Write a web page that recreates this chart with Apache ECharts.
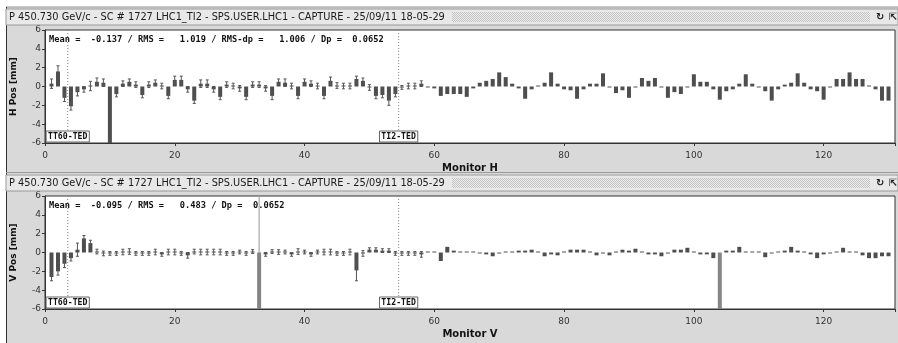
<!DOCTYPE html>
<html>
<head>
<meta charset="utf-8">
<script src="https://cdn.jsdelivr.net/npm/echarts@6/dist/echarts.min.js"></script>
<style>
  html, body { margin: 0; padding: 0; background: #ffffff; }
  #chart { width: 898px; height: 343px; }
</style>
</head>
<body>
<div id="chart"></div>
<script>
// Orbit readings per monitor (mm); monitor number = index + 1
const hPos = [
  0.3, 1.6, -1.2, -2.1, -0.6, -0.3, 0.05, 0.5, 0.4, -6,
  -0.8, 0.3, 0.5, 0.2, -0.9, 0.2, 0.4, 0.05, -1.0, 0.7,
  0.7, -0.3, -1.5, 0.3, 0.3, -0.3, -1.1, 0.2, 0.05, -0.2,
  -1.1, 0.2, 0.2, -0.2, -1.0, 0.5, 0.4, 0.05, -1.0, 0.5,
  0.3, 0.05, -1.0, 0.6, 0.1, 0.05, 0.05, 0.8, 0.6, -0.1,
  -1.0, -0.9, -1.5, -0.8, -0.1, 0.05, 0.05, 0.3, -0.1, -0.2,
  -1.0, -0.8, -0.8, -0.8, -1.1, -0.2, 0.4, 0.6, 0.8, 1.5,
  1.0, 0.3, -0.2, -1.3, -0.3, 0.1, 0.4, 1.5, 0.3, -0.3,
  -0.4, -1.3, -0.3, 0.3, 0.3, 1.4, -0.1, -0.7, -0.4, -1.2,
  -0.1, 0.9, 0.6, 0.9, -0.1, -1.2, -0.6, -0.8, -0.1, 1.3,
  0.5, 0.5, -0.3, -1.4, -0.5, -0.3, 0.3, 1.3, 0.3, -0.1,
  -0.5, -1.5, -0.3, 0.2, 0.4, 1.4, 0.4, -0.3, -0.5, -1.4,
  -0.1, 0.8, 0.8, 1.5, 0.8, 0.8, 0.1, -0.3, -1.5, -1.5
];
const hErr = [
  0.5, 0.6, 0.4, 0.4, 0.4, 0.3, 0.5, 0.4, 0.4, 0,
  0.3, 0.3, 0.3, 0.3, 0.3, 0.3, 0.3, 0.3, 0.3, 0.4,
  0.4, 0.3, 0.3, 0.4, 0.4, 0.3, 0.3, 0.3, 0.3, 0.3,
  0.3, 0.3, 0.3, 0.3, 0.4, 0.3, 0.4, 0.3, 0.3, 0.3,
  0.3, 0.3, 0.3, 0.4, 0.3, 0.3, 0.3, 0.3, 0.3, 0.3,
  0.3, 0.3, 0.5, 0.3, 0.2, 0.3, 0.3, 0.3
];
const vPos = [
  -2.6, -2.0, -1.2, -0.6, 0.3, 1.5, 1.0, 0.1, -0.1, -0.1,
  -0.1, 0.05, 0.1, -0.1, -0.1, -0.1, 0.05, -0.2, 0.05, 0.05,
  -0.1, -0.3, 0.1, 0.05, 0.05, 0.05, 0.05, -0.1, -0.1, 0.05,
  -0.1, 0.1, -6, -0.2, 0.1, 0.05, 0.05, -0.2, 0.1, 0.05,
  -0.2, 0.05, 0.05, 0.05, -0.1, -0.1, 0.05, -1.9, -0.1, 0.3,
  0.3, 0.2, 0.2, -0.1, -0.1, -0.1, -0.1, -0.2, 0.05, 0.1,
  -0.9, 0.6, 0.2, 0.1, 0.1, 0.05, -0.1, -0.2, -0.4, -0.1,
  0.05, 0.05, 0.2, 0.2, 0.3, 0.05, -0.4, -0.2, -0.3, 0.05,
  0.3, 0.3, 0.3, 0.05, -0.3, -0.1, -0.3, 0.05, 0.3, 0.2,
  0.4, 0.05, -0.2, -0.2, -0.4, -0.1, 0.3, 0.3, 0.5, 0.05,
  -0.2, -0.2, -0.6, -6, 0.2, 0.2, 0.6, 0.1, 0.05, 0.05,
  -0.5, -0.1, 0.05, 0.2, 0.6, 0.2, 0.05, -0.2, -0.6, -0.2,
  -0.1, 0.05, 0.5, 0.1, 0.05, -0.3, -0.6, -0.6, -0.4, -0.4
];
const vErr = [
  0.4, 0.4, 0.4, 0.3, 0.7, 0.3, 0.3, 0.25, 0.25, 0.2,
  0.2, 0.3, 0.3, 0.2, 0.2, 0.2, 0.3, 0.2, 0.3, 0.3,
  0.2, 0.3, 0.25, 0.3, 0.3, 0.3, 0.3, 0.2, 0.2, 0.2,
  0.2, 0.2, 0, 0.2, 0.2, 0.25, 0.2, 0.2, 0.3, 0.2,
  0.2, 0.2, 0.3, 0.3, 0.2, 0.2, 0.3, 1.1, 0.3, 0.2,
  0.2, 0.2, 0.2, 0.2, 0.2, 0.2, 0.2, 0.3
];
// Monitors read as saturated / faulty in each plane
const hBadMonitors = [10];
const vBadMonitors = [33, 104];
// Selected monitor in the vertical view
const vSelected = [33];

// Element markers along the line
const markerNames = ['TT60-TED', 'TI2-TED'];
const markerPos = [3.5, 54.5];

const yTicks = { min: -6, max: 6, interval: 2 };
const xTicks = { min: 0, max: 131, interval: 20 };

const titleText = 'P 450.730 GeV/c - SC # 1727 LHC1_TI2 - SPS.USER.LHC1 - CAPTURE - 25/09/11 18-05-29';
const hStats = 'Mean =  -0.137 / RMS =   1.019 / RMS-dp =   1.006 / Dp =  0.0652';
const vStats = 'Mean =  -0.095 / RMS =   0.483 / Dp =  0.0652';

const BAR = '#4e4e4e';
const BAD_V = '#858585';
const SANS = '"DejaVu Sans", Verdana, sans-serif';
const MONO = '"DejaVu Sans Mono", monospace';

const chart = echarts.init(document.getElementById('chart'), null, { renderer: 'canvas' });

function barData(values, bad, badColor) {
  return values.map((v, i) => {
    const m = i + 1;
    if (bad.indexOf(m) >= 0) {
      return { value: [m, v], itemStyle: { color: badColor } };
    }
    return { value: [m, v] };
  });
}
function errData(values, errs) {
  const out = [];
  errs.forEach((e, i) => {
    if (e > 0) out.push([i + 1, values[i] - e, values[i] + e]);
  });
  return out;
}

function renderErr(params, api) {
  const x = api.value(0);
  const pTop = api.coord([x, api.value(2)]);
  const pBot = api.coord([x, api.value(1)]);
  const st = { stroke: '#555', lineWidth: 1 };
  return {
    type: 'group',
    children: [
      { type: 'line', shape: { x1: pTop[0], y1: pTop[1], x2: pBot[0], y2: pBot[1] }, style: st },
      { type: 'line', shape: { x1: pTop[0] - 1.5, y1: pTop[1], x2: pTop[0] + 1.5, y2: pTop[1] }, style: st },
      { type: 'line', shape: { x1: pBot[0] - 1.5, y1: pBot[1], x2: pBot[0] + 1.5, y2: pBot[1] }, style: st }
    ]
  };
}

function renderMarker(params, api) {
  const x = api.value(0);
  const pTop = api.coord([x, yTicks.max]);
  const pBot = api.coord([x, yTicks.min]);
  const name = markerNames[params.dataIndex];
  const w = name.length * 4.9 + 4;
  return {
    type: 'group',
    children: [
      { type: 'line', shape: { x1: pTop[0], y1: pTop[1], x2: pBot[0], y2: pBot[1] },
        style: { stroke: '#888', lineWidth: 1, lineDash: [1, 2] } },
      { type: 'rect', shape: { x: pBot[0] - w / 2, y: pBot[1] - 12, width: w, height: 11 },
        style: { fill: '#fff', stroke: '#666', lineWidth: 1 }, z2: 5 },
      { type: 'text', x: pBot[0], y: pBot[1] - 6.5, z2: 6,
        style: { text: name, fill: '#111', font: 'bold 8.2px ' + MONO, align: 'center', verticalAlign: 'middle' } }
    ]
  };
}

function renderSelected(params, api) {
  const x = api.value(0);
  const pTop = api.coord([x, yTicks.max]);
  const pBot = api.coord([x, yTicks.min]);
  return { type: 'line', shape: { x1: pTop[0], y1: pTop[1], x2: pBot[0], y2: pBot[1] },
           style: { stroke: '#a8a8a8', lineWidth: 1.2 } };
}

// stippled texture for the title bars
const stip = document.createElement('canvas');
stip.width = 2; stip.height = 2;
(function () {
  const c = stip.getContext('2d');
  c.fillStyle = '#ececec'; c.fillRect(0, 0, 2, 2);
  c.fillStyle = '#c4c4c4'; c.fillRect(0, 0, 1, 1); c.fillRect(1, 1, 1, 1);
})();

function titleBar(y) {
  return [
    { type: 'rect', shape: { x: 6, y: y, width: 892, height: 16 },
      style: { fill: '#e8e8e8', stroke: '#9a9a9a', lineWidth: 1 }, z: 10 },
    { type: 'rect', shape: { x: 452, y: y + 3, width: 418, height: 10 },
      style: { fill: { image: stip, repeat: 'repeat' } }, z: 11 },
    { type: 'text', x: 9, y: y + 8.5, z: 12,
      style: { text: titleText, font: '9.8px ' + SANS, fill: '#1a1a1a', verticalAlign: 'middle' } },
    // window control glyphs
    { type: 'text', x: 876, y: y + 8.5, z: 12,
      style: { text: '\u21BB', font: 'bold 10px ' + SANS, fill: '#222', verticalAlign: 'middle' } },
    { type: 'text', x: 889, y: y + 8.5, z: 12,
      style: { text: '\u21F1', font: 'bold 10px ' + SANS, fill: '#222', verticalAlign: 'middle' } }
  ];
}

function axisPair(gridIndex, yName, xName) {
  const x = {
    type: 'value', gridIndex: gridIndex,
    min: xTicks.min, max: xTicks.max, interval: xTicks.interval,
    name: xName, nameLocation: 'middle', nameGap: 20,
    nameTextStyle: { fontFamily: SANS, fontWeight: 'bold', fontSize: 10, color: '#111' },
    axisLine: { show: true, onZero: false, lineStyle: { color: '#333' } },
    axisTick: { show: true, length: 3, lineStyle: { color: '#333' } },
    axisLabel: { fontFamily: SANS, fontSize: 9, color: '#333', margin: 8,
      formatter: function (v) { return v > 130 ? '' : v; } },
    splitLine: { show: false }
  };
  const y = {
    type: 'value', gridIndex: gridIndex,
    min: yTicks.min, max: yTicks.max, interval: yTicks.interval,
    name: yName, nameLocation: 'middle', nameGap: 27,
    nameTextStyle: { fontFamily: SANS, fontWeight: 'bold', fontSize: 9, color: '#111' },
    axisLine: { show: true, onZero: false, lineStyle: { color: '#333' } },
    axisTick: { show: true, length: 3, lineStyle: { color: '#333' } },
    axisLabel: { fontFamily: SANS, fontSize: 9, color: '#333', margin: 4 },
    splitLine: { show: false }
  };
  return [x, y];
}

const hAxes = axisPair(0, 'H Pos [mm]', 'Monitor H');
const vAxes = axisPair(1, 'V Pos [mm]', 'Monitor V');

const option = {
  animation: false,
  backgroundColor: '#d9d9d9',
  grid: [
    { left: 45, right: 1, top: 30, height: 113, show: true, backgroundColor: '#ffffff', borderColor: '#333', borderWidth: 1 },
    { left: 45, right: 1, top: 196, height: 113, show: true, backgroundColor: '#ffffff', borderColor: '#333', borderWidth: 1 }
  ],
  xAxis: [hAxes[0], vAxes[0]],
  yAxis: [hAxes[1], vAxes[1]],
  graphic: [
    { type: 'rect', shape: { x: 0, y: 0, width: 898, height: 7 }, style: { fill: '#ffffff' }, z: 9 },
    { type: 'rect', shape: { x: 0, y: 0, width: 6, height: 343 }, style: { fill: '#ffffff' }, z: 9 },
    { type: 'line', shape: { x1: 6, y1: 7, x2: 898, y2: 7 }, style: { stroke: '#9a9a9a', lineWidth: 1 }, z: 9 },
    { type: 'line', shape: { x1: 6.5, y1: 7, x2: 6.5, y2: 343 }, style: { stroke: '#333', lineWidth: 1 }, z: 9 },
    { type: 'line', shape: { x1: 6, y1: 172.5, x2: 898, y2: 172.5 }, style: { stroke: '#9a9a9a', lineWidth: 1 }, z: 9 }
  ].concat(titleBar(9)).concat(titleBar(175)).concat([
    { type: 'text', x: 49, y: 40, z: 12,
      style: { text: hStats, font: 'bold 8.7px ' + MONO, fill: '#111', verticalAlign: 'middle' } },
    { type: 'text', x: 49, y: 206, z: 12,
      style: { text: vStats, font: 'bold 8.7px ' + MONO, fill: '#111', verticalAlign: 'middle' } }
  ]),
  series: [
    { type: 'custom', xAxisIndex: 0, yAxisIndex: 0, renderItem: renderMarker, data: markerPos.map(p => [p]), z: 1, silent: true },
    { type: 'custom', xAxisIndex: 1, yAxisIndex: 1, renderItem: renderMarker, data: markerPos.map(p => [p]), z: 1, silent: true },
    { type: 'custom', xAxisIndex: 1, yAxisIndex: 1, renderItem: renderSelected, data: vSelected.map(p => [p]), z: 1, silent: true },
    { type: 'bar', xAxisIndex: 0, yAxisIndex: 0, barWidth: 4, barMinHeight: 1,
      itemStyle: { color: BAR }, data: barData(hPos, hBadMonitors, BAR), z: 2, clip: true },
    { type: 'bar', xAxisIndex: 1, yAxisIndex: 1, barWidth: 4, barMinHeight: 1,
      itemStyle: { color: BAR }, data: barData(vPos, vBadMonitors, BAD_V), z: 2, clip: true },
    { type: 'custom', xAxisIndex: 0, yAxisIndex: 0, renderItem: renderErr, data: errData(hPos, hErr), z: 3, silent: true },
    { type: 'custom', xAxisIndex: 1, yAxisIndex: 1, renderItem: renderErr, data: errData(vPos, vErr), z: 3, silent: true }
  ]
};
chart.setOption(option);
</script>
</body>
</html>
